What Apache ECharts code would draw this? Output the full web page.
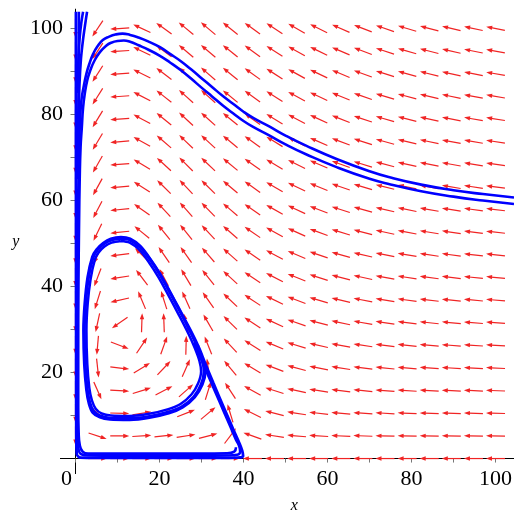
<!DOCTYPE html>
<html>
<head>
<meta charset="utf-8">
<script src="https://cdn.jsdelivr.net/npm/echarts@6/dist/echarts.min.js"></script>
<style>
  html, body { margin: 0; padding: 0; background: #ffffff; }
  #chart { width: 514px; height: 515px; }
</style>
</head>
<body>
<div id="chart"></div>
<script>
// Predator–prey system: prey x with logistic growth, predator y with a
// saturating (Holling type II) functional response.
//   x' = r x (1 - x/K) - x y / (h + x)
//   y' = y (c x / (h + x) - d)
const preyGrowth = 2.42;     // r
const capacity = 40;         // K
const halfSaturation = 6;    // h
const conversion = 2.9;      // c
const predatorDeath = 1.876; // d

// Direction-field grid (20 x 20 over 0..100)
const gridX = [0, 5.26, 10.53, 15.79, 21.05, 26.32, 31.58, 36.84, 42.11, 47.37,
               52.63, 57.89, 63.16, 68.42, 73.68, 78.95, 84.21, 89.47, 94.74, 100];
const gridY = gridX.slice();

// Axis ticks
const xTickLabels = [0, 20, 40, 60, 80, 100];
const yTickLabels = [20, 40, 60, 80, 100];
const xTickMarks = [0, 10, 20, 30, 40, 50, 60, 70, 80, 90, 100];
const yTickMarks = [10, 20, 30, 40, 50, 60, 70, 80, 90, 100];

// Solution curves (x, y)
const upperOuter = [[104.4,60.7],[97,61.5],[90,62.4],[82.3,63.7],[75,65.35],[70,66.8],
  [62.3,69.6],[55,72.7],[50,75.1],[46,77.3],[42.5,79.1],[40,80.65],[37.5,82.5],[35,84.35],
  [32.5,86.4],[30,88.45],[27.5,90.5],[25,92.45],[22.5,94.1],[20,95.7],[17.5,96.9],[15,97.9],
  [13,98.5],[11.2,98.8],[9.5,98.6],[8,98.1],[6.5,97.3],[5.2,95.8],[4.2,94.1],[3.3,91.8],
  [2.6,89.5],[1.9,86.3],[1.4,83.3],[1.1,79],[0.9,74],[0.7,65],[0.6,55],[0.5,40],[0.45,25],
  [0.45,12],[0.5,5],[0.7,2.2],[1.4,1.0],[3,0.7],[10,0.65],[20,0.65],[30,0.65],[36,0.7],
  [38.5,0.9],[39.2,1.6],[39.0,2.8],[38.2,4.4],[36.7,7.8],[34.3,13.2],[31.9,18.6],
  [29.8,23.4],[28.3,26.9]];
const upperInner = [[104.4,59.2],[97,60.0],[90,60.9],[82.3,62.15],[75,63.75],[70,65.05],
  [62.3,67.7],[55,70.7],[50,73.05],[46,75.2],[42.5,77.0],[40,78.5],[37.5,80.3],[35,82.15],
  [32.5,84.2],[30,86.25],[27.5,88.35],[25,90.35],[22.5,92.1],[20,93.7],[17.5,95.0],[15,96.1],
  [13,96.9],[11.5,97.2],[10,97.1],[8.5,96.7],[7.3,96],[5.8,94.5],[4.5,92.5],[3.5,90.2],
  [2.8,88],[2.2,84.8],[1.8,81.6],[1.5,77],[1.2,72.3],[1.0,65],[0.85,55],[0.7,40],[0.65,25],
  [0.65,12],[0.75,6],[1.0,3.2],[1.7,1.6],[3,1.15],[10,1.15],[20,1.15],[30,1.15],[36,1.2],
  [37.8,1.6],[38.2,2.6]];
const axisCurve = [[0.1,103.9],[0.1,80],[0.12,50],[0.15,20],[0.18,6],[0.3,1.0],[1.2,0.2],
  [5,0.15],[20,0.15],[35,0.15],[39.3,0.25],[39.9,0.6],[39.7,1.8],[39.1,3.4],[37.6,6.7],
  [35.2,12.1],[32.8,17.6],[30.6,22.8],[29.1,26.4],[27.4,29.8],[25,34.2],[22.6,38.6],
  [20.2,42.8],[17.8,46.4],[15.4,49.4],[13,51.1],[10.8,51.5],[8.4,51.1],[6.6,50.1],
  [5.0,48.6],[4.0,46.9],[2.9,42.2],[2.2,36],[1.9,29.8],[2.1,21.9],[2.6,16],[3.2,12.8],
  [4.1,10.7],[5.8,9.6],[8.2,9.1],[12.9,9.0],[17.6,9.5],[22.4,10.6],[25.5,11.9],
  [28.4,14.3],[30.2,17.2],[30.9,20.2],[30.5,22.9],[29.2,26.2]];
const topCurveA = [[2.75,103.9],[2.3,101],[1.8,97.5],[1.3,93],[0.95,87],[0.7,78],[0.5,65]];
const topCurveB = [[1.8,103.9],[1.4,101.5],[1.0,98],[0.7,93],[0.45,85]];
const topCurveC = [[0.8,103.9],[0.75,95],[0.7,85],[0.6,70]];
const limitCycle = [[10.8,51.2],[8.5,50.8],[6.7,49.9],[5.2,48.5],[4.2,46.8],[3.1,42.2],
  [2.4,36],[2.1,29.8],[2.3,21.9],[2.8,16],[3.4,13],[4.3,11],[5.9,9.9],[8.2,9.4],[12.9,9.3],
  [17.6,9.8],[22.4,10.9],[25.4,12.1],[28.2,14.4],[29.9,17.2],[30.6,20.2],[30.2,22.8],
  [29,26],[27.3,29.6],[25,34],[22.6,38.4],[20.2,42.6],[17.8,46.2],[15.4,49.1],[13,50.8],[10.8,51.2]];
const cycleInside = [[10.8,50.6],[8.6,50.2],[6.9,49.3],[5.5,47.9],[4.6,46.2],[3.6,41.8],
  [2.9,36],[2.6,29.8],[2.8,22],[3.3,16.3],[3.9,13.5],[4.8,11.6],[6.2,10.5],[8.4,10.0],[12.9,9.9],
  [17.5,10.4],[22.1,11.5],[25.0,12.7],[27.6,14.9],[29.2,17.5],[29.9,20.3],[29.5,22.7],
  [28.4,25.7],[26.8,29.2],[24.5,33.6],[22.1,38.0],[19.8,42.1],[17.5,45.6],[15.2,48.5],[12.9,50.2],[10.8,50.6]];

function slope(x, y) {
  const sat = x / (halfSaturation + x);
  return [
    preyGrowth * x * (1 - x / capacity) - y * sat,
    y * (conversion * sat - predatorDeath)
  ];
}

const fieldData = [];
gridX.forEach(function (x) {
  gridY.forEach(function (y) {
    const v = slope(x, y);
    fieldData.push([x, y, v[0], v[1]]);
  });
});

const ARROW = '#f02424';
const CURVE = '#0000ff';

function renderArrow(params, api) {
  const x = api.value(0), y = api.value(1), u = api.value(2), v = api.value(3);
  const mag = Math.hypot(u, v);
  if (mag === 0) return null;
  const p = api.coord([x, y]);
  const q = api.coord([x + u / mag, y + v / mag]);
  let dx = q[0] - p[0], dy = q[1] - p[1];
  const n = Math.hypot(dx, dy);
  dx /= n; dy /= n;
  const len = 19, head = 6, half = 2.2;
  const tail = [p[0] - dx * len / 2, p[1] - dy * len / 2];
  const tip = [p[0] + dx * len / 2, p[1] + dy * len / 2];
  const base = [tip[0] - dx * head, tip[1] - dy * head];
  return {
    type: 'group',
    children: [
      { type: 'line', shape: { x1: tail[0], y1: tail[1], x2: base[0] + dx, y2: base[1] + dy },
        style: { stroke: ARROW, lineWidth: 1.2 } },
      { type: 'polygon',
        shape: { points: [tip, [base[0] - dy * half, base[1] + dx * half], [base[0] + dy * half, base[1] - dx * half]] },
        style: { fill: ARROW } }
    ]
  };
}

function curve(data, width, smooth) {
  return {
    type: 'line', data: data, showSymbol: false, symbol: 'none', smooth: smooth || 0.3,
    lineStyle: { color: CURVE, width: width || 2.6 }, silent: true, animation: false, z: 3
  };
}

const serif = 'Liberation Serif, Times New Roman, serif';

const chart = echarts.init(document.getElementById('chart'), null, { renderer: 'canvas' });
chart.setOption({
  backgroundColor: '#ffffff',
  animation: false,
  grid: { left: 60.4, right: 0, top: 9.15, bottom: 41.4, outerBoundsMode: 'none', containLabel: false },
  xAxis: {
    type: 'value', min: -3.6, max: 104.4,
    axisLine: { onZero: true, lineStyle: { color: '#000', width: 1 } },
    axisTick: { customValues: xTickMarks, length: 4, lineStyle: { color: '#777' } },
    axisLabel: {
      customValues: xTickLabels, margin: -5, color: '#000', fontFamily: serif, fontSize: 22,
      formatter: function (v) { return v === 0 ? '{o|0}' : String(v); },
      rich: { o: { fontFamily: serif, fontSize: 22, color: '#000', padding: [0, 18, 0, 0] } }
    },
    splitLine: { show: false },
    name: 'x', nameLocation: 'middle', nameGap: 24,
    nameTextStyle: { fontFamily: serif, fontStyle: 'italic', fontSize: 16, color: '#000', padding: [0, 0, 0, 14] }
  },
  yAxis: {
    type: 'value', min: -3.5, max: 104.5,
    axisLine: { onZero: true, lineStyle: { color: '#000', width: 1 } },
    axisTick: { customValues: yTickMarks, length: 5, lineStyle: { color: '#777' } },
    axisLabel: { customValues: yTickLabels, margin: -2.6, color: '#000', fontFamily: serif, fontSize: 22 },
    splitLine: { show: false },
    name: 'y', nameLocation: 'middle', nameGap: 41, nameRotate: 0,
    nameTextStyle: { fontFamily: serif, fontStyle: 'italic', fontSize: 16, color: '#000' }
  },
  series: [
    {
      type: 'custom', data: fieldData, renderItem: renderArrow,
      encode: { x: 0, y: 1 }, silent: true, animation: false, z: 2, clip: false
    },
    curve(upperOuter, 2.6, 0.5),
    curve(upperInner, 2.6, 0.5),
    curve(axisCurve, 2.8),
    curve(topCurveA),
    curve(topCurveB),
    curve(topCurveC),
    curve(limitCycle, 3),
    curve(cycleInside, 2.5)
  ]
});
</script>
</body>
</html>
